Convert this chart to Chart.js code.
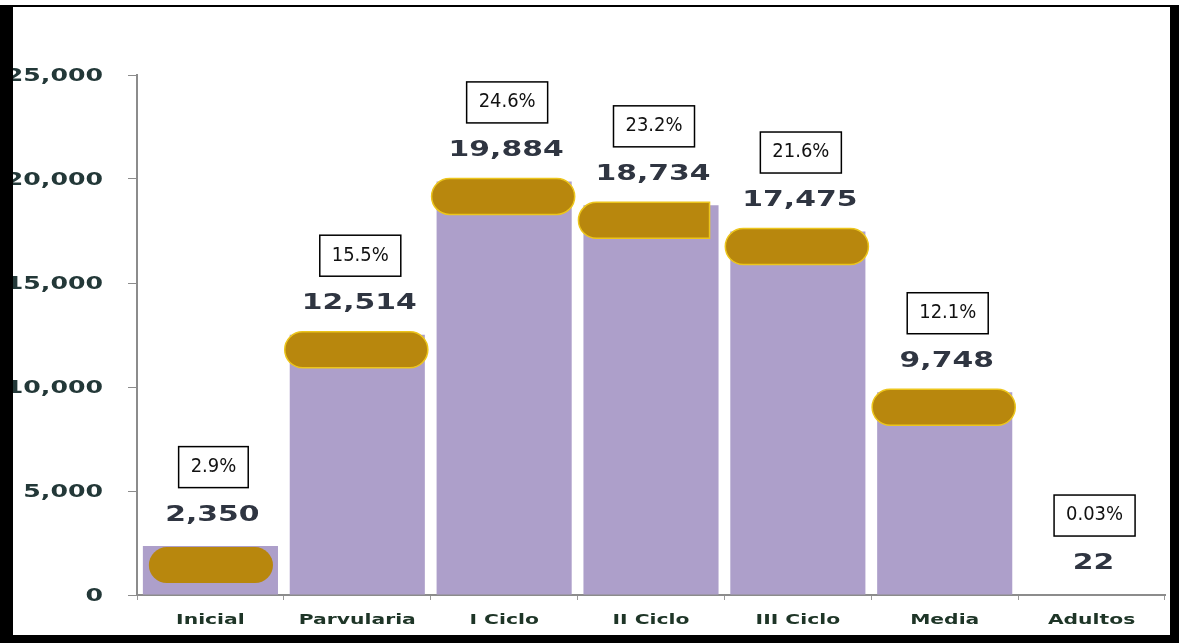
<!DOCTYPE html>
<html lang="es">
<head>
    <meta charset="UTF-8">
    <title>Matrícula por nivel</title>
    <script src="https://cdn.jsdelivr.net/npm/chart.js"></script>
    <style>
        body {
            margin: 0;
            background-color: white;
            overflow: hidden;
        }
        #chart {
            position: absolute;
            left: 0;
            top: 0;
        }
        .frame {
            position: absolute;
            left: 0;
            top: 5px;
            width: 1179px;
            height: 638px;
            box-sizing: border-box;
            border-style: solid;
            border-color: black;
            border-width: 2px 9px 8px 13px;
            pointer-events: none;
        }
    </style>
</head>
<body>
    <canvas id="chart" width="1179" height="643"></canvas>
    <div class="frame"></div>

    <script>
        const categories = ['Inicial', 'Parvularia', 'I Ciclo', 'II Ciclo', 'III Ciclo', 'Media', 'Adultos'];
        const students = [2350, 12514, 19884, 18734, 17475, 9748, 22];
        const shares = ['2.9%', '15.5%', '24.6%', '23.2%', '21.6%', '12.1%', '0.03%'];
        const yTicks = [0, 5000, 10000, 15000, 20000, 25000];

        // the source picture is stretched sideways, so text is drawn wider than normal
        function wideText(ctx, text, x, y, align, sx) {
            ctx.save();
            ctx.translate(x, y);
            ctx.scale(sx, 1);
            ctx.textAlign = align;
            ctx.textBaseline = 'middle';
            ctx.fillText(text, 0, 0);
            ctx.restore();
        }

        function roundCap(ctx, x, y, w, h, squareRight) {
            const r = h / 2;
            ctx.beginPath();
            ctx.moveTo(x + r, y);
            if (squareRight) {
                ctx.lineTo(x + w, y);
                ctx.lineTo(x + w, y + h);
            } else {
                ctx.lineTo(x + w - r, y);
                ctx.arc(x + w - r, y + r, r, -Math.PI / 2, Math.PI / 2);
            }
            ctx.lineTo(x + r, y + h);
            ctx.arc(x + r, y + r, r, Math.PI / 2, Math.PI * 1.5);
            ctx.closePath();
        }

        const decorations = {
            id: 'decorations',
            afterDatasetsDraw(chart) {
                const ctx = chart.ctx;
                const bars = chart.getDatasetMeta(0).data;

                // gold caps on top of the bars
                bars.forEach((bar, i) => {
                    if (students[i] < 100) return;
                    const small = students[i] < 5000;
                    const left = small ? bar.x - bar.width / 2 + 6 : bar.x - bar.width / 2 - 5;
                    const w = small ? bar.width - 11 : bar.width + 8;
                    const square = categories[i] === 'II Ciclo';
                    ctx.save();
                    roundCap(ctx, left, small ? bar.y + 1 : bar.y - 3, square ? w - 12 : w, 36, square);
                    ctx.fillStyle = '#b8870d';
                    ctx.fill();
                    if (!small) {
                        ctx.lineWidth = 1.5;
                        ctx.strokeStyle = '#ecc51c';
                        ctx.stroke();
                    }
                    ctx.restore();
                });
            },
            afterDraw(chart) {
                const ctx = chart.ctx;
                const bars = chart.getDatasetMeta(0).data;
                const yScale = chart.scales.y;
                const xScale = chart.scales.x;

                ctx.save();
                // value labels
                ctx.fillStyle = '#2f3541';
                ctx.font = 'bold 21px "DejaVu Sans", sans-serif';
                bars.forEach((bar, i) => {
                    wideText(ctx, students[i].toLocaleString('en-US'), bar.x + 2, bar.y - 31, 'center', 1.42);
                });

                // percentage boxes
                ctx.font = '19px "DejaVu Sans Condensed", "DejaVu Sans", sans-serif';
                bars.forEach((bar, i) => {
                    const tw = ctx.measureText(shares[i]).width * 1.05;
                    const bw = tw + 24;
                    const bh = 41;
                    const cx = bar.x + 3;
                    const cy = bar.y - 79;
                    ctx.fillStyle = 'white';
                    ctx.fillRect(cx - bw / 2, cy - bh / 2, bw, bh);
                    ctx.lineWidth = 1.5;
                    ctx.strokeStyle = 'black';
                    ctx.strokeRect(cx - bw / 2, cy - bh / 2, bw, bh);
                    ctx.fillStyle = '#111';
                    wideText(ctx, shares[i], cx, cy, 'center', 1.05);
                });

                // y tick labels
                ctx.fillStyle = '#233838';
                ctx.font = 'bold 18px "DejaVu Sans", sans-serif';
                yTicks.forEach(v => {
                    wideText(ctx, v.toLocaleString('en-US'), 103, yScale.getPixelForValue(v) + 1, 'right', 1.4);
                });

                // category labels
                ctx.fillStyle = '#1e3527';
                ctx.font = 'bold 14px "DejaVu Sans", sans-serif';
                categories.forEach((c, i) => {
                    wideText(ctx, c, xScale.getPixelForValue(i), 620, 'center', 1.45);
                });
                ctx.restore();
            }
        };

        new Chart(document.getElementById('chart').getContext('2d'), {
            type: 'bar',
            data: {
                labels: categories,
                datasets: [{
                    data: students,
                    backgroundColor: '#ad9fca',
                    borderWidth: 0,
                    barPercentage: 0.92,
                    categoryPercentage: 1
                }]
            },
            options: {
                responsive: false,
                animation: false,
                layout: {
                    padding: { top: 75, right: 14, left: 0, bottom: 0 }
                },
                plugins: {
                    legend: { display: false },
                    tooltip: { enabled: false }
                },
                scales: {
                    x: {
                        afterFit: s => { s.height = 48; },
                        grid: {
                            drawOnChartArea: false,
                            tickLength: 5,
                            color: '#9a9a9a',
                            offset: true
                        },
                        border: { color: '#8c8c8c', width: 2 },
                        ticks: { display: false }
                    },
                    y: {
                        min: 0,
                        max: 25000,
                        afterFit: s => { s.width = 137; },
                        grid: {
                            drawOnChartArea: false,
                            tickLength: 9,
                            color: '#8c8c8c'
                        },
                        border: { color: '#8c8c8c', width: 2 },
                        ticks: { display: false, stepSize: 5000 }
                    }
                }
            },
            plugins: [decorations]
        });
    </script>
</body>
</html>
